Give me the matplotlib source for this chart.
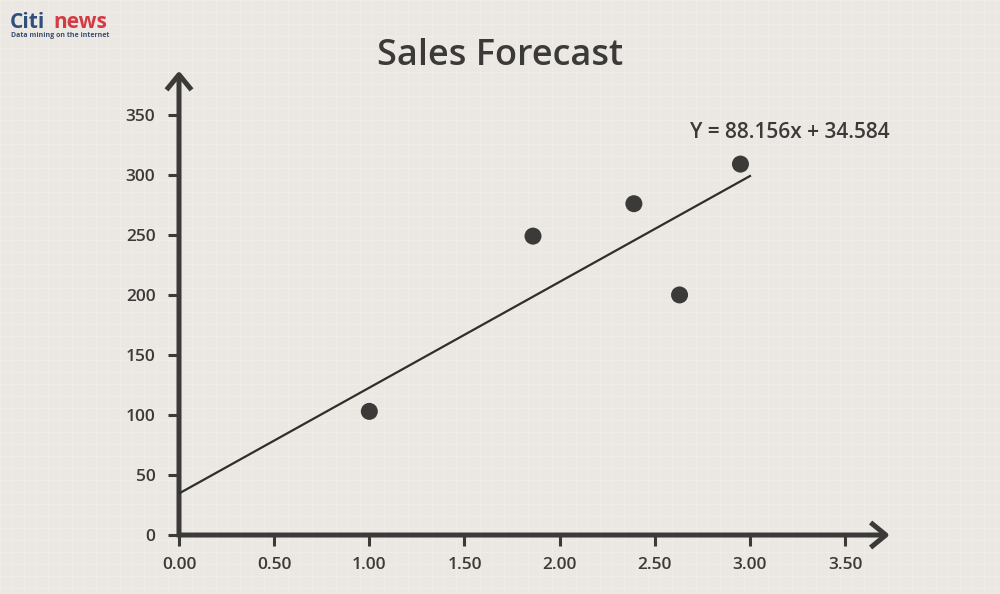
import matplotlib
matplotlib.use("Agg")
import matplotlib.pyplot as plt
import numpy as np

# ---- data ----
x_vals = [1.00, 1.86, 2.39, 2.63, 2.95]
y_vals = [103, 249, 276, 200, 309]
slope = 88.156
intercept = 34.584
fit_x_range = [0.0, 3.0]
x_ticks = [0.0, 0.5, 1.0, 1.5, 2.0, 2.5, 3.0, 3.5]
y_ticks = [0, 50, 100, 150, 200, 250, 300, 350]
title = "Sales Forecast"
equation = "Y = 88.156x + 34.584"

BG = "#ebe8e3"
INK = "#3b3a38"
plt.rcParams['font.family'] = ['Open Sans', 'DejaVu Sans']

fig = plt.figure(figsize=(10, 5.94), dpi=100, facecolor=BG)

# faint background grid pattern
bg = fig.add_axes([0, 0, 1, 1], zorder=-10)
bg.set_xlim(0, 1000); bg.set_ylim(594, 0)
bg.set_facecolor(BG)
for gx in np.arange(0, 1000, 12):
    bg.axvline(gx, color="#f1eee9", lw=0.8, alpha=0.8)
for gy in np.arange(0, 594, 12):
    bg.axhline(gy, color="#f1eee9", lw=0.8, alpha=0.8)
bg.axis("off")

ax = fig.add_axes([0.179, 0.0993, 0.708, 0.774])
ax.set_facecolor("none")
ax.set_xlim(0, 3.72)
ax.set_ylim(0, 383)

for s in ax.spines.values():
    s.set_visible(False)

# axes with arrows
arr = dict(arrowstyle="->,head_length=0.55,head_width=0.45", lw=3.6, color=INK,
           mutation_scale=20, shrinkA=0, shrinkB=0, capstyle='butt')
ax.annotate("", xy=(1.004, 0), xytext=(-0.002, 0), xycoords="axes fraction",
            textcoords="axes fraction", arrowprops=arr, annotation_clip=False)
ax.annotate("", xy=(0, 1.01), xytext=(0, -0.005), xycoords="axes fraction",
            textcoords="axes fraction", arrowprops=arr, annotation_clip=False)

ax.set_xticks(x_ticks)
ax.set_xticklabels([f"{v:.2f}" for v in x_ticks])
ax.set_yticks(y_ticks)
ax.set_yticklabels([str(v) for v in y_ticks])
ax.tick_params(axis="both", colors=INK, width=2.2, length=8, labelsize=12.5,
               labelcolor=INK)
ax.tick_params(axis="x", pad=8)
ax.tick_params(axis="y", pad=9)
for lab in ax.get_xticklabels() + ax.get_yticklabels():
    lab.set_fontweight("semibold")

# fit line
fx = np.array(fit_x_range)
ax.plot(fx, slope * fx + intercept, color="#2f2e2c", lw=1.6, zorder=3)

# points
ax.scatter(x_vals, y_vals, s=150, color=INK, zorder=4, edgecolors="none")

ax.text(3.735, 335, equation, ha="right", va="center", fontsize=15,
        color=INK, fontweight="semibold")

fig.text(0.5, 0.906, title, ha="center", va="center", fontsize=26,
         color=INK, fontweight="semibold")

# logo
fig.text(0.010, 0.962, "Citi", ha="left", va="center", fontsize=15,
         color="#2f4f7c", fontweight="bold")
fig.text(0.053, 0.962, "news", ha="left", va="center", fontsize=15,
         color="#d23c46", fontweight="bold")
fig.text(0.011, 0.940, "Data mining on the internet", ha="left", va="center",
         fontsize=5, color="#3a4f6f", fontweight="bold")

fig.savefig("out.png", dpi=100, facecolor=BG)
